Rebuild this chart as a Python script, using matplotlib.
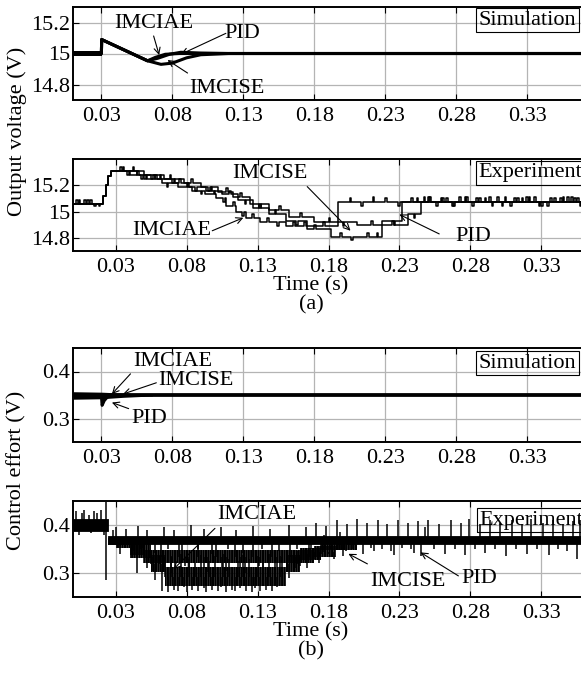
import matplotlib
matplotlib.use('Agg')
import matplotlib.pyplot as plt
import numpy as np

plt.rcParams['font.family'] = ['Liberation Serif', 'DejaVu Serif']
plt.rcParams['font.size'] = 16
plt.rcParams['hatch.linewidth'] = 1.6

# ---------------- (a) simulation, output voltage (key points)
sim_v_t_iae = [0.01, 0.03, 0.0302, 0.0625, 0.068, 0.075, 0.085, 0.37]
sim_v_iae = [15.0, 15.0, 15.09, 14.953, 14.975, 14.995, 15.0, 15.0]
sim_v_t_ise = [0.01, 0.03, 0.0302, 0.0625, 0.072, 0.08, 0.09, 0.1, 0.12, 0.37]
sim_v_ise = [15.0, 15.0, 15.09, 14.953, 14.93, 14.938, 14.972, 14.992, 15.0, 15.0]
sim_v_t_pid = [0.01, 0.03, 0.0302, 0.0625, 0.07, 0.078, 0.086, 0.1, 0.12, 0.37]
sim_v_pid = [15.0, 15.0, 15.09, 14.953, 14.97, 14.995, 15.008, 15.003, 15.0, 15.0]
sim_v_ripple_t = [0.01, 0.0302]
sim_v_ripple_lo = [14.985, 14.985]
sim_v_ripple_hi = [15.015, 15.015]

# ---------------- (a) experiment, output voltage (quantised staircase + spikes)
exp_v_t_iae = [0.0, 0.021, 0.023, 0.025, 0.027, 0.04, 0.052, 0.063, 0.074, 0.084,
               0.093, 0.101, 0.108, 0.115, 0.122, 0.132, 0.15, 0.187, 0.36]
exp_v_iae = [15.06, 15.12, 15.2, 15.27, 15.31, 15.28, 15.25, 15.22, 15.19, 15.16,
             15.13, 15.1, 15.04, 15.0, 14.95, 14.92, 14.89, 15.07, 15.07]
exp_v_t_ise = [0.0, 0.021, 0.023, 0.025, 0.027, 0.045, 0.058, 0.07, 0.082, 0.094,
               0.105, 0.116, 0.127, 0.138, 0.15, 0.165, 0.182, 0.218, 0.232, 0.36]
exp_v_ise = [15.06, 15.12, 15.2, 15.27, 15.31, 15.28, 15.25, 15.22, 15.19, 15.16,
             15.13, 15.09, 15.03, 14.98, 14.93, 14.87, 14.81, 14.93, 15.07, 15.07]
exp_v_t_pid = [0.0, 0.021, 0.023, 0.025, 0.027, 0.05, 0.064, 0.078, 0.09, 0.102,
               0.113, 0.125, 0.138, 0.152, 0.17, 0.2, 0.236, 0.245, 0.36]
exp_v_pid = [15.06, 15.12, 15.2, 15.27, 15.31, 15.28, 15.25, 15.22, 15.19, 15.15,
             15.11, 15.06, 15.01, 14.96, 14.92, 14.9, 14.98, 15.07, 15.07]

spk_v_t_iae = [0.004, 0.012, 0.018, 0.033, 0.038, 0.045, 0.05, 0.058, 0.066, 0.071,
               0.08, 0.09, 0.099, 0.106, 0.113, 0.119, 0.126, 0.137, 0.144, 0.155,
               0.163, 0.176, 0.195, 0.203, 0.211, 0.22, 0.229, 0.238, 0.247, 0.256,
               0.263, 0.272, 0.281, 0.29, 0.299, 0.308, 0.316, 0.325, 0.334, 0.343,
               0.351, 0.357]
spk_v_d_iae = [0.03, 0.03, -0.02, 0.03, -0.03, 0.03, -0.03, 0.03, -0.03, 0.03,
               0.03, -0.03, 0.03, -0.03, 0.03, -0.03, 0.03, 0.03, -0.03, 0.03,
               0.03, 0.03, 0.03, -0.03, 0.04, 0.03, -0.03, 0.03, 0.04, -0.03,
               0.03, 0.04, -0.03, 0.03, 0.04, -0.03, 0.03, 0.04, -0.03, 0.03,
               0.04, -0.03]
spk_v_t_ise = [0.008, 0.015, 0.035, 0.048, 0.061, 0.075, 0.086, 0.097, 0.11, 0.121,
               0.131, 0.142, 0.157, 0.17, 0.188, 0.196, 0.207, 0.214, 0.226, 0.242,
               0.251, 0.26, 0.268, 0.277, 0.286, 0.295, 0.304, 0.313, 0.321, 0.33,
               0.339, 0.348, 0.355]
spk_v_d_ise = [0.03, -0.02, 0.03, -0.03, 0.03, 0.03, -0.03, 0.03, 0.03, -0.03,
               0.03, 0.03, -0.03, 0.03, 0.03, -0.03, 0.03, 0.03, -0.03, 0.03,
               0.04, 0.03, -0.03, 0.04, 0.03, -0.03, 0.04, 0.03, 0.04, -0.03,
               0.03, 0.04, 0.03]
spk_v_t_pid = [0.002, 0.01, 0.042, 0.055, 0.068, 0.083, 0.095, 0.108, 0.118, 0.131,
               0.145, 0.16, 0.18, 0.19, 0.21, 0.225, 0.24, 0.25, 0.259, 0.267,
               0.276, 0.284, 0.293, 0.302, 0.311, 0.319, 0.328, 0.336, 0.345, 0.353]
spk_v_d_pid = [0.03, 0.03, 0.03, -0.03, 0.03, 0.03, -0.03, 0.03, 0.03, -0.03,
               0.03, 0.03, 0.03, -0.03, 0.03, 0.03, -0.03, 0.04, 0.03, -0.03,
               0.04, 0.03, 0.04, -0.03, 0.03, 0.04, -0.03, 0.03, 0.04, 0.03]

# ---------------- (b) simulation, control effort
sim_u_t_iae = [0.01, 0.03, 0.0305, 0.033, 0.037, 0.37]
sim_u_iae = [0.35, 0.35, 0.342, 0.346, 0.35, 0.35]
sim_u_t_ise = [0.01, 0.03, 0.0305, 0.034, 0.04, 0.37]
sim_u_ise = [0.35, 0.35, 0.344, 0.347, 0.35, 0.35]
sim_u_t_pid = [0.01, 0.03, 0.0305, 0.032, 0.034, 0.037, 0.37]
sim_u_pid = [0.35, 0.35, 0.328, 0.338, 0.345, 0.35, 0.35]
sim_u_ripple_t = [0.01, 0.0302, 0.045, 0.066]
sim_u_ripple_lo = [0.341, 0.342, 0.345, 0.348]
sim_u_ripple_hi = [0.357, 0.356, 0.354, 0.351]

# ---------------- (b) experiment, control effort (noise band + spikes)
exp_u_t_pre = [0.0, 0.025]
exp_u_lo_pre = [0.388, 0.388]
exp_u_hi_pre = [0.412, 0.412]
exp_u_t_pid = [0.025, 0.36]
exp_u_lo_pid = [0.361, 0.361]
exp_u_hi_pid = [0.378, 0.378]
exp_u_t_ise = [0.025, 0.04, 0.05, 0.17, 0.185, 0.2]
exp_u_lo_ise = [0.358, 0.338, 0.32, 0.333, 0.348, 0.362]
exp_u_hi_ise = [0.372, 0.36, 0.347, 0.356, 0.37, 0.375]
exp_u_t_iae = [0.03, 0.04, 0.055, 0.065, 0.15, 0.16, 0.175, 0.19]
exp_u_lo_iae = [0.352, 0.332, 0.302, 0.272, 0.302, 0.328, 0.348, 0.362]
exp_u_hi_iae = [0.372, 0.36, 0.337, 0.312, 0.337, 0.352, 0.37, 0.375]

spk_u_t_pre = [0.002, 0.004, 0.006, 0.008, 0.011, 0.013, 0.015, 0.017, 0.02, 0.022,
               0.023, 0.0235]
spk_u_v_pre = [0.43, 0.38, 0.425, 0.432, 0.42, 0.383, 0.43, 0.425, 0.432, 0.38,
               0.448, 0.285]
spk_u_t_pid = [0.028, 0.03, 0.033, 0.037, 0.042, 0.046, 0.049, 0.052, 0.058, 0.064,
               0.067, 0.071, 0.077, 0.083, 0.088, 0.092, 0.098, 0.104, 0.109, 0.115,
               0.12, 0.127, 0.133, 0.139, 0.145, 0.152, 0.158, 0.164, 0.168, 0.171,
               0.175, 0.178, 0.182, 0.186, 0.19, 0.193, 0.197, 0.2, 0.204, 0.207,
               0.21, 0.212, 0.215, 0.218, 0.221, 0.224, 0.226, 0.229, 0.232, 0.236,
               0.238, 0.24, 0.243, 0.245, 0.248, 0.25, 0.254, 0.258, 0.262, 0.266,
               0.269, 0.273, 0.276, 0.279, 0.283, 0.287, 0.29, 0.294, 0.297, 0.301,
               0.305, 0.309, 0.312, 0.316, 0.32, 0.323, 0.327, 0.331, 0.335, 0.338,
               0.342, 0.345, 0.348, 0.352, 0.355, 0.357]
spk_u_v_pid = [0.39, 0.395, 0.34, 0.392, 0.345, 0.398, 0.352, 0.39, 0.342, 0.395,
               0.35, 0.39, 0.345, 0.4, 0.35, 0.392, 0.34, 0.395, 0.35, 0.39,
               0.342, 0.398, 0.35, 0.392, 0.345, 0.4, 0.35, 0.395, 0.35, 0.405,
               0.34, 0.398, 0.35, 0.41, 0.335, 0.402, 0.35, 0.412, 0.34, 0.405,
               0.352, 0.345, 0.41, 0.35, 0.402, 0.345, 0.338, 0.41, 0.352, 0.405,
               0.35, 0.342, 0.408, 0.335, 0.395, 0.41, 0.35, 0.402, 0.34, 0.41,
               0.35, 0.405, 0.338, 0.412, 0.35, 0.402, 0.342, 0.41, 0.35, 0.405,
               0.335, 0.41, 0.35, 0.402, 0.34, 0.412, 0.35, 0.405, 0.338, 0.41,
               0.35, 0.402, 0.345, 0.408, 0.33, 0.41]
spk_u_t_ise = [0.045, 0.048, 0.052, 0.056, 0.062, 0.065, 0.069, 0.075, 0.079, 0.082,
               0.088, 0.092, 0.095, 0.101, 0.105, 0.108, 0.114, 0.118, 0.121, 0.127,
               0.131, 0.134, 0.14, 0.144, 0.147, 0.153, 0.157, 0.16, 0.166, 0.17,
               0.173, 0.177, 0.18, 0.184, 0.188, 0.192]
spk_u_v_ise = [0.37, 0.365, 0.31, 0.305, 0.368, 0.312, 0.3, 0.362, 0.315, 0.31,
               0.37, 0.31, 0.302, 0.365, 0.312, 0.305, 0.37, 0.31, 0.3, 0.365,
               0.315, 0.308, 0.368, 0.312, 0.302, 0.37, 0.31, 0.315, 0.375, 0.33,
               0.32, 0.38, 0.34, 0.33, 0.385, 0.345]
spk_u_t_iae = [0.045, 0.05, 0.055, 0.058, 0.061, 0.063, 0.065, 0.067, 0.069, 0.071,
               0.072, 0.074, 0.076, 0.078, 0.08, 0.082, 0.084, 0.086, 0.088, 0.09,
               0.092, 0.094, 0.096, 0.098, 0.1, 0.102, 0.104, 0.106, 0.108, 0.11,
               0.112, 0.114, 0.116, 0.118, 0.12, 0.122, 0.124, 0.126, 0.128, 0.13,
               0.132, 0.134, 0.136, 0.138, 0.14, 0.142, 0.144, 0.146, 0.152, 0.158,
               0.165]
spk_u_v_iae = [0.3, 0.32, 0.34, 0.285, 0.335, 0.262, 0.32, 0.26, 0.335, 0.265,
               0.322, 0.262, 0.34, 0.27, 0.26, 0.33, 0.265, 0.32, 0.262, 0.338,
               0.268, 0.26, 0.325, 0.265, 0.335, 0.262, 0.27, 0.34, 0.26, 0.33,
               0.265, 0.262, 0.325, 0.268, 0.338, 0.262, 0.33, 0.26, 0.268, 0.335,
               0.262, 0.325, 0.265, 0.34, 0.262, 0.33, 0.27, 0.335, 0.29, 0.345,
               0.31]

ticks_x = [0.03, 0.08, 0.13, 0.18, 0.23, 0.28, 0.33]


def with_spikes(t, v, st, sd, w=0.0012):
    pts = list(zip(t, v))
    for ts, d in zip(st, sd):
        i = np.searchsorted(t, ts, side='right') - 1
        pts += [(ts, v[i] + d), (ts + w, v[i])]
    pts.sort()
    return [p[0] for p in pts], [p[1] for p in pts]


def band_mid(t, lo, hi, ts):
    i = np.clip(np.searchsorted(t, ts, side='right') - 1, 0, len(t) - 1)
    return [(lo[k] + hi[k]) / 2 for k in i]


def style(ax, xlim, ylim, yticks, ylabels):
    ax.set_xlim(*xlim)
    ax.set_ylim(*ylim)
    ax.set_xticks(ticks_x)
    ax.set_xticklabels([f'{x:.2f}' for x in ticks_x])
    ax.set_yticks(yticks)
    ax.set_yticklabels(ylabels)
    ax.grid(True, color='#b4b4b4', lw=0.9)
    ax.set_axisbelow(True)
    ax.tick_params(direction='in', top=True, right=False, length=4, width=0.8,
                   labelsize=16)
    ax.tick_params(axis='x', pad=5)
    ax.tick_params(axis='y', pad=2)
    for s in ax.spines.values():
        s.set_linewidth(1.4)


def note(ax, txt, txy, start, tip):
    ax.text(txy[0], txy[1], txt, ha='center', va='center', fontsize=16, zorder=5)
    ax.annotate('', xy=tip, xytext=start, zorder=5,
                arrowprops=dict(arrowstyle='->', lw=0.8, color='k',
                                mutation_scale=11, shrinkA=0, shrinkB=0))


def boxlabel(ax, txt, x, y):
    ax.text(x, y, txt, transform=ax.transAxes, ha='left', va='center',
            fontsize=16, zorder=1.5,
            bbox=dict(boxstyle='square,pad=0.12', fc='none', ec='k', lw=0.8))


W, H = 581, 673
fig = plt.figure(figsize=(W / 100, H / 100), dpi=100)


def axes_px(top, bottom):
    return fig.add_axes([73 / W, 1 - bottom / H, 511 / W, (bottom - top) / H])


# ---- panel 1
ax1 = axes_px(7, 100)
ax1.fill_between(sim_v_ripple_t, sim_v_ripple_lo, sim_v_ripple_hi, color='k', lw=0)
ax1.plot(sim_v_t_pid, sim_v_pid, color='k', lw=2.2)
ax1.plot(sim_v_t_iae, sim_v_iae, color='k', lw=2.2)
ax1.plot(sim_v_t_ise, sim_v_ise, color='k', lw=2.2)
style(ax1, (0.01, 0.37), (14.7, 15.3), [14.8, 15.0, 15.2], ['14.8', '15', '15.2'])
note(ax1, 'IMCIAE', (0.0666, 15.195), (0.0668, 15.113), (0.0707, 14.99))
note(ax1, 'PID', (0.1294, 15.13), (0.1177, 15.13), (0.086, 14.995))
note(ax1, 'IMCISE', (0.1183, 14.775), (0.0907, 14.874), (0.0766, 14.958))
boxlabel(ax1, 'Simulation', 0.793, 0.86)

# ---- panel 2
ax2 = axes_px(159, 251)
for t, v, st, sd in [(exp_v_t_iae, exp_v_iae, spk_v_t_iae, spk_v_d_iae),
                     (exp_v_t_ise, exp_v_ise, spk_v_t_ise, spk_v_d_ise),
                     (exp_v_t_pid, exp_v_pid, spk_v_t_pid, spk_v_d_pid)]:
    tt, vv = with_spikes(t, v, st, sd)
    ax2.plot(tt, vv, color='k', lw=1.1, drawstyle='steps-post')
style(ax2, (0.0, 0.36), (14.7, 15.4), [14.8, 15.0, 15.2], ['14.8', '15', '15.2'])
note(ax2, 'IMCISE', (0.1388, 15.289), (0.165, 15.19), (0.1955, 14.854))
note(ax2, 'IMCIAE', (0.0694, 14.854), (0.0981, 14.854), (0.12, 14.953))
note(ax2, 'PID', (0.282, 14.807), (0.258, 14.83), (0.2299, 14.978))
boxlabel(ax2, 'Experiment', 0.793, 0.848)

# ---- panel 3
ax3 = axes_px(348, 442)
ax3.fill_between(sim_u_ripple_t, sim_u_ripple_lo, sim_u_ripple_hi, color='k', lw=0)
ax3.plot(sim_u_t_pid, sim_u_pid, color='k', lw=2.2)
ax3.plot(sim_u_t_iae, sim_u_iae, color='k', lw=2.2)
ax3.plot(sim_u_t_ise, sim_u_ise, color='k', lw=2.2)
style(ax3, (0.01, 0.37), (0.25, 0.45), [0.3, 0.4], ['0.3', '0.4'])
note(ax3, 'IMCIAE', (0.08, 0.422), (0.0505, 0.395), (0.0374, 0.352))
note(ax3, 'IMCISE', (0.0966, 0.381), (0.0687, 0.376), (0.0452, 0.352))
note(ax3, 'PID', (0.0635, 0.301), (0.0492, 0.321), (0.0374, 0.334))
boxlabel(ax3, 'Simulation', 0.793, 0.84)

# ---- panel 4
ax4 = axes_px(501, 597)
ax4.fill_between(exp_u_t_pre, exp_u_lo_pre, exp_u_hi_pre, step='post', color='k', lw=0.6)
ax4.fill_between(exp_u_t_pid, exp_u_lo_pid, exp_u_hi_pid, step='post', color='k', lw=0.6)
for t, lo, hi in [(exp_u_t_ise, exp_u_lo_ise, exp_u_hi_ise),
                  (exp_u_t_iae, exp_u_lo_iae, exp_u_hi_iae)]:
    ax4.fill_between(t, lo, hi, step='post', facecolor='none', edgecolor='k',
                     hatch='|||||||', lw=0)
for t, lo, hi, st, sv in [(exp_u_t_pre, exp_u_lo_pre, exp_u_hi_pre, spk_u_t_pre, spk_u_v_pre),
                          (exp_u_t_pid, exp_u_lo_pid, exp_u_hi_pid, spk_u_t_pid, spk_u_v_pid),
                          (exp_u_t_ise, exp_u_lo_ise, exp_u_hi_ise, spk_u_t_ise, spk_u_v_ise),
                          (exp_u_t_iae, exp_u_lo_iae, exp_u_hi_iae, spk_u_t_iae, spk_u_v_iae)]:
    ax4.vlines(st, band_mid(t, lo, hi, st), sv, color='k', lw=1.1)
style(ax4, (0.0, 0.36), (0.25, 0.45), [0.3, 0.4], ['0.3', '0.4'])
note(ax4, 'IMCIAE', (0.1296, 0.421), (0.1, 0.393), (0.0708, 0.308))
note(ax4, 'IMCISE', (0.236, 0.283), (0.2074, 0.319), (0.194, 0.34))
note(ax4, 'PID', (0.286, 0.289), (0.2715, 0.294), (0.2448, 0.343))
boxlabel(ax4, 'Experiment', 0.795, 0.80)

# ---- shared labels
fig.text(17 / W, 1 - 131 / H, 'Output voltage (V)', rotation=90, ha='center',
         va='center', fontsize=16)
fig.text(17 / W, 1 - 470 / H, 'Control effort (V)', rotation=90, ha='center',
         va='center', fontsize=16)
fig.text(311 / W, 1 - 286 / H, 'Time (s)', ha='center', va='center', fontsize=16)
fig.text(311 / W, 1 - 305 / H, '(a)', ha='center', va='center', fontsize=16)
fig.text(311 / W, 1 - 632 / H, 'Time (s)', ha='center', va='center', fontsize=16)
fig.text(311 / W, 1 - 651 / H, '(b)', ha='center', va='center', fontsize=16)

fig.savefig('out.png', dpi=100)
plt.close(fig)
